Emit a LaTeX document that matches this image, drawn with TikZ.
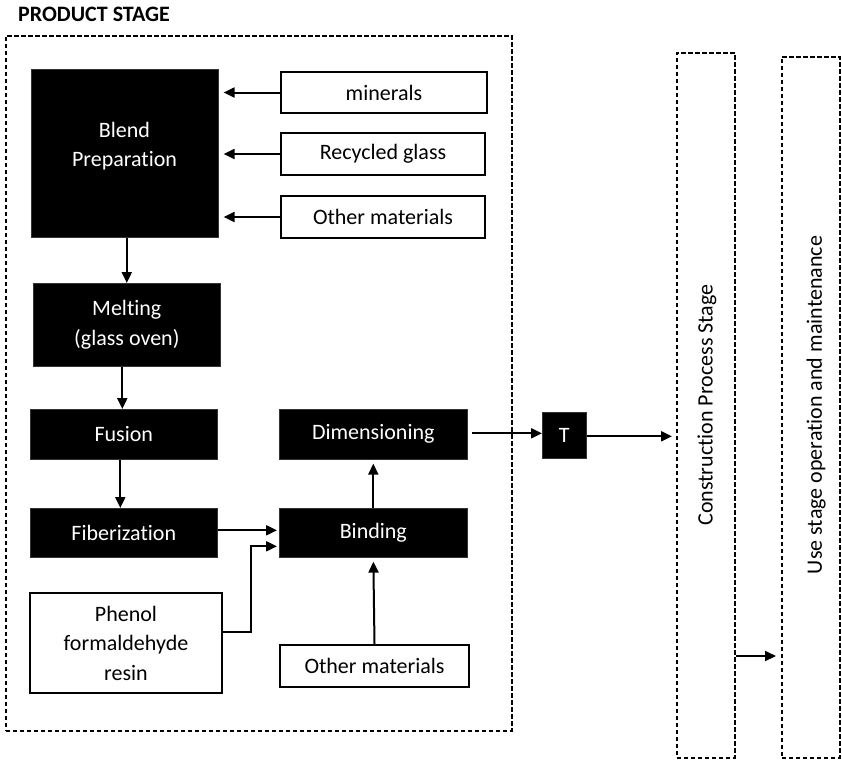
\documentclass[tikz,border=0pt]{standalone}
\usepackage{fontspec}
\setmainfont[Ligatures={NoCommon}]{Carlito}
\usetikzlibrary{arrows.meta}
\begin{document}
\begin{tikzpicture}[x=1pt,y=-1pt,
  every node/.style={font=\fontsize{22}{29.5}\selectfont},
  proc/.style={fill=black, draw=black!80, line width=0.6pt, inner sep=0pt, anchor=north west, text=white},
  input/.style={draw=black, fill=white, line width=2pt, inner sep=0pt, anchor=north west},
  stage/.style={draw=black, line width=1.5pt, dash pattern=on 4.5pt off 2.5pt, inner sep=0pt, anchor=north west},
  arr/.style={-{Triangle[length=11pt,width=10pt]}, line width=2pt},
  lbl/.style={inner sep=0pt, align=center}]
\useasboundingbox (0,0) rectangle (842,763);

% Title and outer product-stage frame
\node[anchor=west, inner sep=0pt, font=\fontsize{22}{26}\selectfont\bfseries] (title) at (18,14) {PRODUCT STAGE};
\node[stage, minimum width=506pt, minimum height=695pt] (product) at (5,35) {};

% Blend preparation and its raw materials
\node[proc, minimum width=187pt, minimum height=168pt] (blend) at (31,69) {};
\node[lbl, text=white] (blendtxt) at (124.5,146) {Blend\\Preparation};
\node[input, minimum width=206pt, minimum height=41pt] (minerals) at (280,71) {minerals};
\node[input, minimum width=204pt, minimum height=42pt] (recycled) at (280,132) {Recycled glass};
\node[input, minimum width=204pt, minimum height=42pt] (othera) at (280,195) {Other materials};

% Main process chain
\node[proc, minimum width=187pt, minimum height=83pt, align=center] (melt) at (33,283) {Melting\\(glass oven)};
\node[proc, minimum width=187pt, minimum height=50pt] (fusion) at (30,409) {Fusion};
\node[proc, minimum width=187pt, minimum height=49pt] (fiber) at (30,508) {Fiberization};
\node[proc, minimum width=188pt, minimum height=49pt] (binding) at (279,508) {Binding};
\node[proc, minimum width=188pt, minimum height=50pt] (dim) at (279,409) {Dimensioning};
\node[input, minimum width=192pt, minimum height=100pt, align=center] (phenol) at (29,592) {Phenol\\formaldehyde\\resin};
\node[input, minimum width=189pt, minimum height=42pt] (otherb) at (279,644) {Other materials};

% Transport and later stages
\node[proc, minimum width=44pt, minimum height=46pt] (transport) at (542,412) {T};
\node[stage, minimum width=58pt, minimum height=705pt] (cons) at (676,52) {};
\node[stage, minimum width=58pt, minimum height=701pt] (use) at (781,56) {};
\node[lbl, rotate=90] (constxt) at (707,405) {Construction Process Stage};
\node[lbl, rotate=90] (usetxt) at (816,405) {Use stage operation and maintenance};

% Connectors
\draw[arr, shorten >=5pt] (minerals.west) -- (minerals.west -| blend.east);
\draw[arr, shorten >=5pt] (recycled.west) -- (recycled.west -| blend.east);
\draw[arr, shorten >=5pt] (othera.west) -- (othera.west -| blend.east);
\draw[arr] (melt.north |- blend.south) -- (melt.north);
\draw[arr] ([xshift=-1.5pt]fusion.north |- melt.south) -- ([xshift=-1.5pt]fusion.north);
\draw[arr] ([xshift=-3.5pt]fusion.south) -- ([xshift=-3.5pt]fiber.north);
\draw[arr, shorten >=2pt] ([yshift=2.5pt]fiber.east) -- ([yshift=2.5pt]fiber.east -| binding.west);
\draw[arr, shorten >=2pt] ([yshift=11pt]phenol.east) -- ++(28,0) |- ([yshift=-13.5pt]binding.west);
\draw[arr, shorten >=4pt] (otherb.north) -- (binding.south);
\draw[arr, shorten >=4pt] (binding.north) -- (dim.south);
\draw[arr, shorten <=4pt] ([yshift=1pt]dim.east) -- ([yshift=1pt]dim.east -| transport.west);
\draw[arr, shorten >=4pt] ([yshift=-1pt]transport.east) -- ([yshift=-1pt]transport.east -| cons.west);
\draw[arr, shorten >=5pt] (cons.east |- 0,656) -- (use.west |- 0,656);
\end{tikzpicture}
\end{document}
